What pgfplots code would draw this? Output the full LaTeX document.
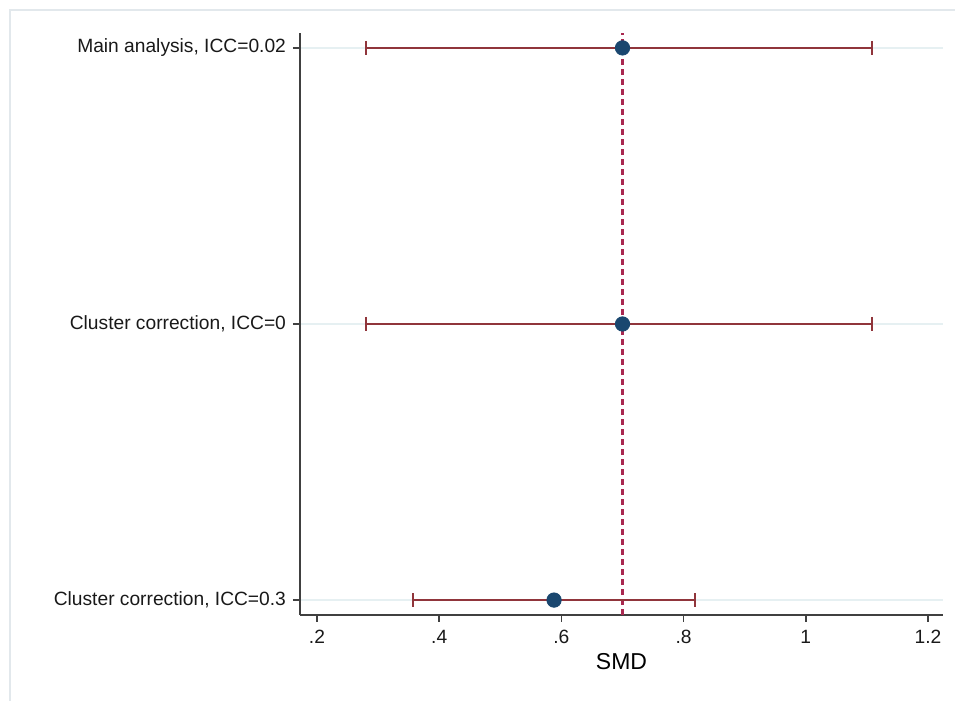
\documentclass[border=0pt]{standalone}
\usepackage{fontspec}
\setmainfont{Liberation Sans}
\usepackage{pgfplots}
\pgfplotsset{compat=1.18}
\definecolor{cimaroon}{RGB}{144,53,59}
\definecolor{stnavy}{RGB}{26,71,111}
\definecolor{refred}{RGB}{170,40,80}
\definecolor{gridc}{RGB}{230,240,242}
\definecolor{framec}{RGB}{226,232,236}

\begin{document}
\begin{tikzpicture}
% 1 px of the reference = 0.5pt
\useasboundingbox (0pt,0pt) rectangle (477.5pt,350.5pt);
\draw[framec, line width=0.8pt] (5pt,0pt) -- (5pt,345.5pt) -- (477.5pt,345.5pt);
\begin{axis}[
    at={(150pt,334pt)}, anchor=north west,
    width=321.5pt, height=291pt, scale only axis,
    xmin=0.1722, xmax=1.2245, ymin=0.946, ymax=3.054,
    axis lines=left, axis line style={-, line width=0.8pt, black!75},
    tick align=outside, major tick length=3.5pt,
    tick style={line width=0.8pt, black!75},
    xtick={0.2,0.4,0.6,0.8,1,1.2},
    xticklabels={.2,.4,.6,.8,1,1.2},
    ytick={1,2,3},
    yticklabels={{Cluster correction, ICC=0.3},{Cluster correction, ICC=0},{Main analysis, ICC=0.02}},
    ticklabel style={font=\fontsize{9.6}{11}\selectfont, text=black!90},
    xticklabel style={yshift=-0.5pt},
    xlabel={SMD}, xlabel style={font=\fontsize{11.5}{13}\selectfont, yshift=2pt},
    ymajorgrids, grid style={gridc, line width=1pt},
    clip=false,
]
\addplot[refred, line width=1.1pt, dash pattern=on 3pt off 2pt] coordinates {(0.70,0.946) (0.70,3.054)};
\addplot[cimaroon, line width=1.2pt, mark=|, mark size=3.5pt, mark options={solid, line width=1pt}] coordinates {(0.28,3) (1.108,3)};
\addplot[cimaroon, line width=1.2pt, mark=|, mark size=3.5pt, mark options={solid, line width=1pt}] coordinates {(0.28,2) (1.108,2)};
\addplot[cimaroon, line width=1.2pt, mark=|, mark size=3.5pt, mark options={solid, line width=1pt}] coordinates {(0.357,1) (0.819,1)};
\addplot[only marks, mark=*, mark size=3.6pt, stnavy, mark options={fill=stnavy, draw=stnavy}] coordinates {(0.70,3) (0.70,2) (0.588,1)};
\end{axis}
\end{tikzpicture}
\end{document}
